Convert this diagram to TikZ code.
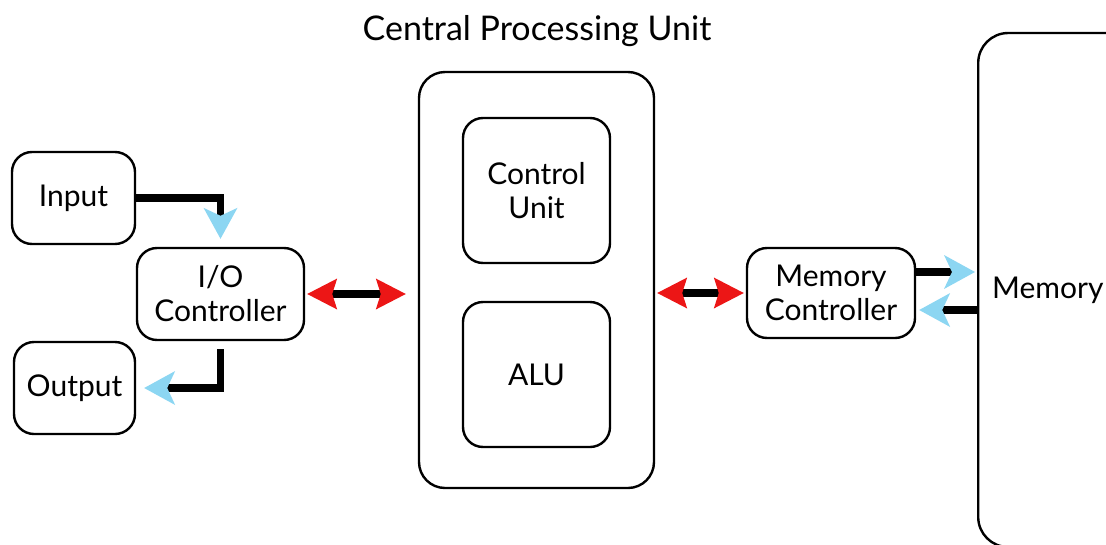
\documentclass[tikz,border=0pt]{standalone}
\usepackage{fontspec}
\setmainfont{Lato}
\usetikzlibrary{arrows.meta,positioning}
\definecolor{tipblue}{RGB}{140,214,242}
\definecolor{tipred}{RGB}{236,22,22}
\tikzset{
  box/.style={draw, line width=2.4pt, rounded corners=20pt, align=center,
    inner sep=0pt, font=\fontsize{30}{34}\selectfont},
  flow/.style={line width=7.5pt,
    -{Stealth[color=tipblue, length=31pt, width=34pt, inset=8pt, line width=0pt]}},
  bus/.style={line width=7.5pt,
    {Stealth[color=tipred, length=30pt, width=31pt, inset=5pt, line width=0pt]}-{Stealth[color=tipred, length=30pt, width=31pt, inset=5pt, line width=0pt]}},
}
\begin{document}
\begin{tikzpicture}[x=1pt, y=-1pt]
  \path[use as bounding box, clip] (0,0) rectangle (1106,544);

  % left side
  \node[box, minimum width=123pt, minimum height=92pt] (inp) at (73.5,198) {Input};
  \node[box, minimum width=167pt, minimum height=92pt] (io) at (220.5,294) {I/O\\Controller};
  \node[box, minimum width=121pt, minimum height=92pt] (out) at (74.5,388) {Output};

  % processor
  \node[font=\fontsize{34}{38}\selectfont] (title) at (537,31) {Central Processing Unit};
  \node[box, rounded corners=26pt, minimum width=235pt, minimum height=416pt] (cpu) at (536.5,280) {};
  \node[box, minimum width=147pt, minimum height=145pt] (cu) at (536.5,190.5) {Control\\Unit};
  \node[box, minimum width=147pt, minimum height=145pt] (alu) at (536.5,374.5) {ALU};

  % memory side
  \node[box, minimum width=168pt, minimum height=90pt] (mc) at (831,293) {Memory\\Controller};
  \node[box, rounded corners=30pt, anchor=west, minimum width=180pt, minimum height=514pt,
    text width=166pt, align=left, inner xsep=14pt] (mem) at (977,290) {Memory};

  % connectors
  \draw[flow, shorten >=8pt] (inp.east) -| (io.north);
  \draw[flow, shorten <=8pt, shorten >=8pt] (io.south) |- (out.east);
  \draw[bus, shorten <=2pt, shorten >=12pt] (io.east) -- (io.east -| cpu.west);
  \draw[bus, shorten <=2pt, shorten >=2pt] (cpu.east |- mc.west) -- (mc.west);
  \draw[flow, shorten >=2pt] ([yshift=21pt]mc.east) -- ([yshift=21pt]mc.east -| mem.west);
  \draw[flow, shorten >=3pt] ([yshift=-17pt]mc.east -| mem.west) -- ([yshift=-17pt]mc.east);
\end{tikzpicture}
\end{document}
